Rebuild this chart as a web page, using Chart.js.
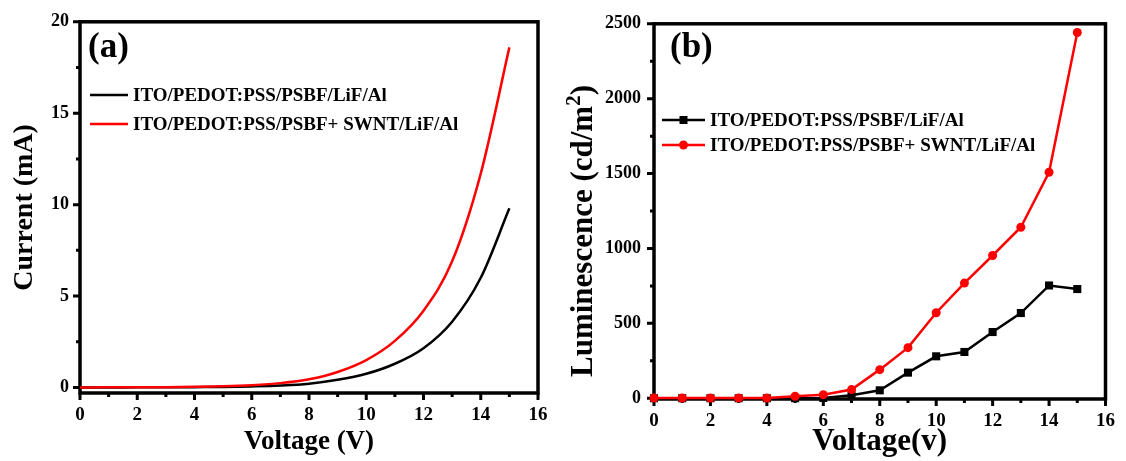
<!DOCTYPE html>
<html>
<head>
<meta charset="utf-8">
<script src="https://cdn.jsdelivr.net/npm/chart.js@4.4.1/dist/chart.umd.min.js"></script>
<style>
  html, body { margin: 0; padding: 0; background: #fff; }
  #wrap { position: relative; width: 1126px; height: 461px; }
  .panel { position: absolute; top: 0; height: 461px; }
  #panelA { left: 0; width: 560px; }
  #panelB { left: 560px; width: 566px; }
</style>
</head>
<body>
<div id="wrap">
  <div class="panel" id="panelA"><canvas id="ivChart" width="560" height="461"></canvas></div>
  <div class="panel" id="panelB"><canvas id="lvChart" width="566" height="461"></canvas></div>
</div>
<script>
// ==========================
// DATA
// ==========================
const voltage = [0, 1, 2, 3, 4, 5, 6, 7, 8, 9, 10, 11, 12, 13, 14, 15];

// current (mA) vs voltage
const currentPlain = [0.00, 0.00, 0.01, 0.01, 0.02, 0.03, 0.06, 0.11, 0.21, 0.42, 0.75, 1.30, 2.15, 3.60, 6.00, 9.80];
const currentSwnt  = [0.00, 0.01, 0.01, 0.02, 0.04, 0.07, 0.13, 0.24, 0.45, 0.85, 1.50, 2.55, 4.20, 6.90, 11.7, 18.6];

// luminescence (cd/m2) vs voltage
const lumPlain = [0, 0, 0, 0, 0, 0, 2, 20, 53, 171, 280, 309, 442, 569, 753, 729];
const lumSwnt  = [2, 2, 2, 2, 2, 13, 24, 58, 191, 338, 571, 769, 953, 1142, 1509, 2442];

const seriesNames = ["ITO/PEDOT:PSS/PSBF/LiF/Al", "ITO/PEDOT:PSS/PSBF+ SWNT/LiF/Al"];

const voltageTicks = [0, 2, 4, 6, 8, 10, 12, 14, 16];
const currentTicks = [0, 5, 10, 15, 20];
const lumTicks = [0, 500, 1000, 1500, 2000, 2500];

const SERIF = '"Times New Roman", "Liberation Serif", serif';
const RED = "#ff0000";
const toPoints = (ys) => voltage.map((v, i) => ({ x: v, y: ys[i] }));

// ==========================
// PANEL DECORATION PLUGIN
// box frame, major/minor ticks, panel tag, inline legend
// ==========================
const panelDecor = {
  id: "panelDecor",
  beforeDatasetsDraw(chart) {
    const { ctx, chartArea: a, scales: { x, y } } = chart;
    ctx.save();
    ctx.strokeStyle = "#000";
    ctx.lineWidth = 3;

    const xv = x.ticks.map(t => t.value);
    const yv = y.ticks.map(t => t.value);
    ctx.beginPath();
    xv.forEach((v, i) => {
      const px = x.getPixelForValue(v);
      ctx.moveTo(px, a.bottom); ctx.lineTo(px, a.bottom + 7);
      if (i < xv.length - 1) {
        const mx = x.getPixelForValue((v + xv[i + 1]) / 2);
        ctx.moveTo(mx, a.bottom); ctx.lineTo(mx, a.bottom + 4);
      }
    });
    yv.forEach((v, i) => {
      const py = y.getPixelForValue(v);
      ctx.moveTo(a.left, py); ctx.lineTo(a.left - 7, py);
      if (i < yv.length - 1) {
        const my = y.getPixelForValue((v + yv[i + 1]) / 2);
        ctx.moveTo(a.left, my); ctx.lineTo(a.left - 4, my);
      }
    });
    ctx.stroke();

    ctx.lineWidth = 3.5;
    ctx.strokeRect(a.left, a.top, a.right - a.left, a.bottom - a.top);
    ctx.restore();
  },
  afterDraw(chart, args, opts) {
    const { ctx } = chart;
    ctx.save();
    ctx.fillStyle = "#000";
    ctx.textBaseline = "middle";
    ctx.font = "bold 35px " + SERIF;
    ctx.fillText(opts.tag, opts.tagX, opts.tagY);

    // rotated y title with a real superscript
    if (opts.yTitle) {
      const t = opts.yTitle;
      ctx.save();
      ctx.translate(t.x, t.y);
      ctx.rotate(-Math.PI / 2);
      ctx.textBaseline = "alphabetic";
      const big = "bold " + t.size + "px " + SERIF;
      const small = "bold " + Math.round(t.size * 0.68) + "px " + SERIF;
      ctx.font = big;
      const w1 = ctx.measureText(t.main).width;
      const w3 = ctx.measureText(t.tail).width;
      ctx.font = small;
      const w2 = ctx.measureText(t.sup).width;
      let cx = -(w1 + w2 + w3) / 2;
      ctx.font = big;
      ctx.fillText(t.main, cx, t.size * 0.33); cx += w1;
      ctx.font = small;
      ctx.fillText(t.sup, cx, t.size * 0.33 - t.size * 0.4); cx += w2;
      ctx.font = big;
      ctx.fillText(t.tail, cx, t.size * 0.33);
      ctx.restore();
    }

    const lg = opts.legend;
    ctx.font = "bold " + lg.size + "px " + SERIF;
    chart.data.datasets.forEach((ds, i) => {
      const ly = lg.rows[i];
      ctx.strokeStyle = ds.borderColor;
      ctx.fillStyle = ds.borderColor;
      ctx.lineWidth = 2.5;
      ctx.beginPath();
      ctx.moveTo(lg.x0, ly); ctx.lineTo(lg.x1, ly);
      ctx.stroke();
      const mx = (lg.x0 + lg.x1) / 2;
      if (ds.pointStyle === "rect" && ds.pointRadius > 0) {
        ctx.fillRect(mx - 4, ly - 4, 8, 8);
      } else if (ds.pointRadius > 0) {
        ctx.beginPath(); ctx.arc(mx, ly, ds.pointRadius, 0, Math.PI * 2); ctx.fill();
      }
      ctx.fillStyle = "#000";
      ctx.fillText(ds.label, lg.textX, ly + 1);
    });
    ctx.restore();
  }
};

// ==========================
// SHARED AXIS BUILDERS
// ==========================
function xAxis(height, titleSize, titlePad) {
  return {
    type: "linear", min: 0, max: 16,
    afterBuildTicks: s => { s.ticks = voltageTicks.map(v => ({ value: v })); },
    afterFit: s => { s.height = height; },
    grid: { display: false, drawTicks: false },
    border: { display: false },
    ticks: { color: "#000", padding: 11, callback: v => String(v),
             font: { family: SERIF, size: 19, weight: "bold" } },
    title: { display: true, color: "#000", padding: { top: 0, bottom: titlePad },
             font: { family: SERIF, size: titleSize, weight: "bold" } }
  };
}

function yAxis(min, max, ticks, width, titleSize, pad) {
  return {
    type: "linear", min: min, max: max,
    afterBuildTicks: s => { s.ticks = ticks.map(v => ({ value: v })); },
    afterFit: s => { s.width = width; },
    grid: { display: false, drawTicks: false },
    border: { display: false },
    ticks: { color: "#000", padding: pad, callback: v => String(v),
             font: { family: SERIF, size: 18, weight: "bold" } },
    title: { display: true, color: "#000", padding: { top: 0, bottom: 0 },
             font: { family: SERIF, size: titleSize, weight: "bold" } }
  };
}

// ==========================
// (a) CURRENT - VOLTAGE
// ==========================
const ivX = xAxis(68, 27, 3);
ivX.title.text = "Voltage (V)";
const ivY = yAxis(-0.3, 20, currentTicks, 80, 28, 11);
ivY.title.text = "Current (mA)";
ivY.title.padding = { top: 8, bottom: 0 };

new Chart(document.getElementById("ivChart"), {
  type: "line",
  data: {
    datasets: [
      { label: seriesNames[0], data: toPoints(currentPlain), borderColor: "#000", borderWidth: 2.5,
        pointRadius: 0, cubicInterpolationMode: "monotone", order: 1 },
      { label: seriesNames[1], data: toPoints(currentSwnt), borderColor: RED, borderWidth: 2.5,
        pointRadius: 0, cubicInterpolationMode: "monotone", order: 0 }
    ]
  },
  options: {
    responsive: false, animation: false,
    layout: { padding: { top: 20, right: 22, left: 0, bottom: 0 } },
    scales: { x: ivX, y: ivY },
    plugins: {
      legend: { display: false }, tooltip: { enabled: false },
      panelDecor: { tag: "(a)", tagX: 88, tagY: 48,
        legend: { x0: 90, x1: 128, textX: 133, rows: [95, 124], size: 19 } }
    }
  },
  plugins: [panelDecor]
});

// ==========================
// (b) LUMINESCENCE - VOLTAGE
// ==========================
const lvX = xAxis(62, 31, 0);
lvX.title.text = "Voltage(v)";
const lvY = yAxis(-5, 2500, lumTicks, 94, 31, 13);
lvY.title.display = false; // drawn by panelDecor so the superscript sits right

new Chart(document.getElementById("lvChart"), {
  type: "line",
  data: {
    datasets: [
      { label: seriesNames[0], data: toPoints(lumPlain), borderColor: "#000", backgroundColor: "#000",
        borderWidth: 2.5, pointStyle: "rect", pointRadius: 5.7, pointBorderWidth: 0,
        tension: 0, clip: false, order: 1 },
      { label: seriesNames[1], data: toPoints(lumSwnt), borderColor: RED, backgroundColor: RED,
        borderWidth: 2.5, pointStyle: "circle", pointRadius: 4.5, pointBorderWidth: 0,
        tension: 0, clip: false, order: 0 }
    ]
  },
  options: {
    responsive: false, animation: false,
    layout: { padding: { top: 23, right: 13, left: 0, bottom: 0 } },
    scales: { x: lvX, y: lvY },
    plugins: {
      legend: { display: false }, tooltip: { enabled: false },
      panelDecor: { tag: "(b)", tagX: 110, tagY: 48,
        yTitle: { main: "Luminescence (cd/m", sup: "2", tail: ")", size: 31, x: 22, y: 231 },
        legend: { x0: 102, x1: 145, textX: 150, rows: [120, 145], size: 19 } }
    }
  },
  plugins: [panelDecor]
});
</script>
</body>
</html>
